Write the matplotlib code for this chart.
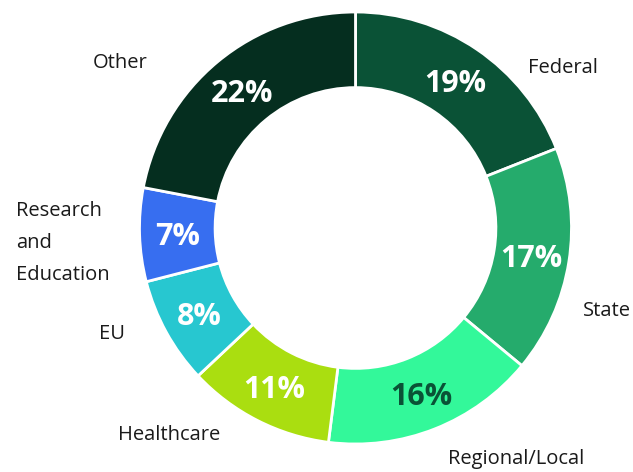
import matplotlib.pyplot as plt

# data
categories = ["Federal", "State", "Regional/Local", "Healthcare", "EU",
              "Research\nand\nEducation", "Other"]
shares = [19, 17, 16, 11, 8, 7, 22]
colors = ["#0a5236", "#25ab6c", "#33f89a", "#aade10", "#27c7d0", "#376ef0", "#052e1f"]
pct_colors = ["white", "white", "#0a5236", "white", "white", "white", "white"]

# label anchors in pixel space (x, y from top), with horizontal alignment
label_pos = [(528, 68, "left"), (583, 311, "left"), (448, 459, "left"),
             (118, 435, "left"), (125, 334, "right"), (16, 243, "left"),
             (148, 63, "right")]

W, H = 633, 472
fig = plt.figure(figsize=(W / 100, H / 100), dpi=100)
ax = fig.add_axes([0, 0, 1, 1])

cx, cy, r = 355.5, H - 228, 216
wedges, texts, autotexts = ax.pie(
    shares, colors=colors, startangle=90, counterclock=False,
    center=(cx, cy), radius=r, frame=True,
    autopct=lambda p: f"{p:.0f}%", pctdistance=0.826,
    wedgeprops=dict(width=r * 0.35, edgecolor="white", linewidth=2),
    textprops=dict(family="Open Sans", fontsize=22, fontweight="bold"))
ax.set_xlim(0, W)
ax.set_ylim(0, H)
ax.axis("off")
for t, c in zip(autotexts, pct_colors):
    t.set_color(c)
    t.set_va("center_baseline")

for name, (x, y, ha) in zip(categories, label_pos):
    ax.text(x, H - y, name, ha=ha, va="center", fontsize=14.5,
            family="Open Sans", color="#1a1a1a", linespacing=1.8)

plt.savefig("out.png", dpi=100)
